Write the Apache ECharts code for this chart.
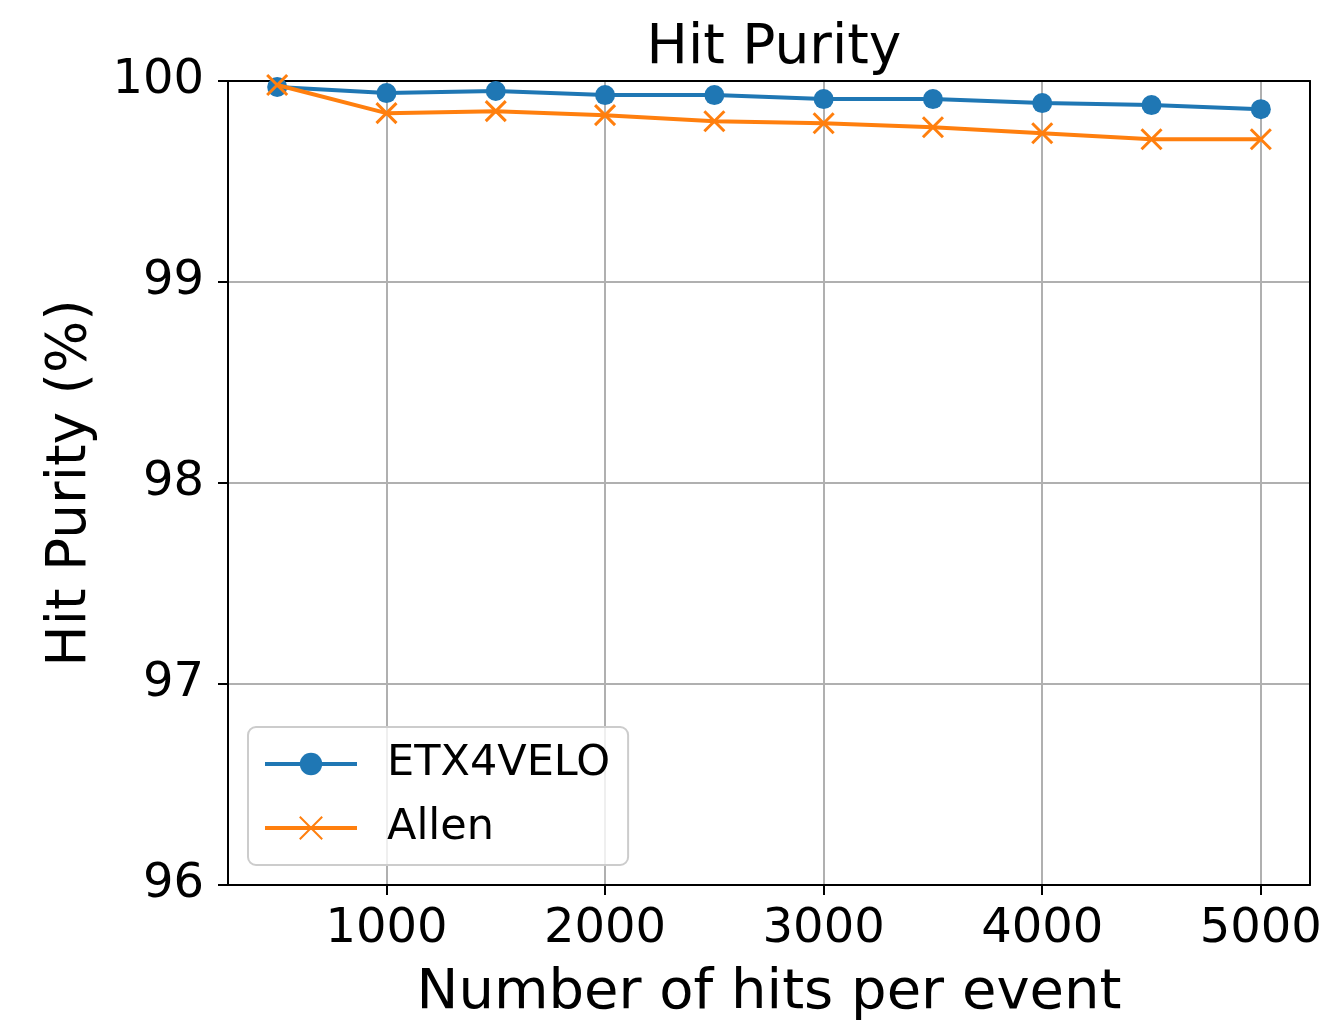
<!DOCTYPE html>
<html>
<head>
<meta charset="utf-8">
<script src="https://cdn.jsdelivr.net/npm/echarts@6/dist/echarts.min.js"></script>
<style>html,body{margin:0;padding:0;background:#fff}#c{width:1333px;height:1026px}</style>
</head>
<body>
<div id="c"></div>
<script>
const hits = [500, 1000, 1500, 2000, 2500, 3000, 3500, 4000, 4500, 5000];
const etx4velo = [99.97, 99.94, 99.95, 99.93, 99.93, 99.91, 99.91, 99.89, 99.88, 99.86];
const allen = [99.98, 99.84, 99.85, 99.83, 99.80, 99.79, 99.77, 99.74, 99.71, 99.71];
const xTicks = [1000, 2000, 3000, 4000, 5000];
const yTicks = [96, 97, 98, 99, 100];

const FONT = 'DejaVu Sans';
const chart = echarts.init(document.getElementById('c'), null, {renderer: 'canvas'});
const frameAxis = {
  show: true,
  axisLine: {show: true, onZero: false, lineStyle: {color: '#000', width: 2}},
  axisTick: {show: false}, axisLabel: {show: false}, splitLine: {show: false}
};
chart.setOption({
  animation: false,
  backgroundColor: '#ffffff',
  textStyle: {fontFamily: FONT},
  title: {
    text: 'Hit Purity', left: 769, top: 16, textAlign: 'center',
    textStyle: {fontFamily: FONT, fontSize: 55, fontWeight: 'normal', color: '#000'}
  },
  grid: {left: 228, right: 23, top: 81, bottom: 138, containLabel: false},
  legend: {
    orient: 'vertical', left: 248, top: 727,
    padding: [14, 18, 14, 15],
    itemGap: 18, itemWidth: 92, itemHeight: 28,
    borderColor: '#cccccc', borderWidth: 2, borderRadius: 8,
    backgroundColor: 'rgba(255,255,255,0.8)',
    lineStyle: {width: 4},
    textStyle: {fontFamily: FONT, fontSize: 43, color: '#000', lineHeight: 46, padding: [0, 0, 0, 25]},
    data: ['ETX4VELO', 'Allen']
  },
  xAxis: [{
    type: 'value', min: 275, max: 5225,
    name: 'Number of hits per event', nameLocation: 'middle', nameGap: 80,
    nameTextStyle: {fontFamily: FONT, fontSize: 56, color: '#000'},
    axisLine: {show: true, onZero: false, lineStyle: {color: '#000', width: 2}},
    axisTick: {show: true, length: 10, lineStyle: {color: '#000', width: 2}, customValues: xTicks},
    axisLabel: {fontFamily: FONT, fontSize: 48, color: '#000', margin: 21, customValues: xTicks,
      formatter: v => String(v)},
    splitLine: {show: true, lineStyle: {color: '#b0b0b0', width: 2}}
  }, Object.assign({type: 'value', position: 'top', min: 275, max: 5225}, frameAxis)],
  yAxis: [{
    type: 'value', min: 96, max: 100, interval: 1,
    name: 'Hit Purity (%)', nameLocation: 'middle', nameGap: 130, nameRotate: 90,
    nameTextStyle: {fontFamily: FONT, fontSize: 55, color: '#000'},
    axisLine: {show: true, lineStyle: {color: '#000', width: 2}},
    axisTick: {show: true, length: 10, lineStyle: {color: '#000', width: 2}},
    axisLabel: {fontFamily: FONT, fontSize: 48, color: '#000', margin: 24,
      formatter: v => (yTicks.indexOf(v) >= 0 ? String(v) : '')},
    splitLine: {show: true, lineStyle: {color: '#b0b0b0', width: 2}}
  }, Object.assign({type: 'value', position: 'right', min: 96, max: 100, interval: 1}, frameAxis)],
  series: [
    {
      name: 'ETX4VELO', type: 'line',
      data: hits.map((h, i) => [h, etx4velo[i]]),
      color: '#1f77b4',
      lineStyle: {width: 4, color: '#1f77b4'},
      symbol: 'circle', symbolSize: 20,
      itemStyle: {color: '#1f77b4'}, z: 2
    },
    {
      name: 'Allen', type: 'line',
      data: hits.map((h, i) => [h, allen[i]]),
      color: '#ff7f0e',
      lineStyle: {width: 4, color: '#ff7f0e'},
      symbol: 'path://M0,0 L10,10 M10,0 L0,10', symbolSize: 20,
      itemStyle: {color: 'none', borderColor: '#ff7f0e', borderWidth: 3}, z: 3
    }
  ]
});
</script>
</body>
</html>
